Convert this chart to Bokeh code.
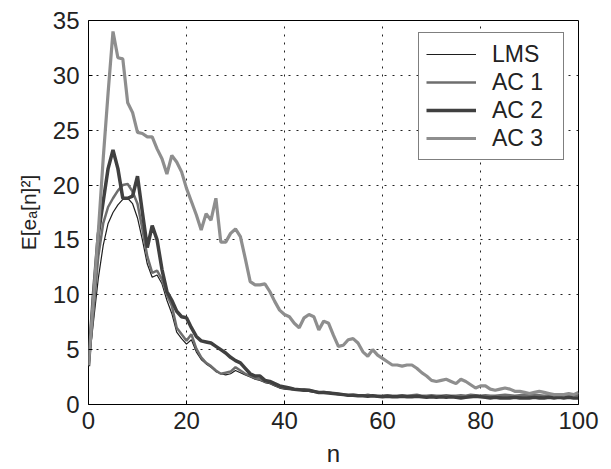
from bokeh.plotting import figure
from bokeh.models import Legend, LegendItem, FixedTicker, Range1d
from bokeh.embed import file_html
from bokeh.resources import INLINE

n = list(range(101))

lms = [3.5, 7.5, 11.5, 14.5, 16.5, 17.5, 18.2, 18.7, 18.8, 18.3,
       17.0, 15.0, 12.8, 11.6, 11.8, 11.0, 9.5, 8.3, 6.6, 6.0,
       5.5, 5.9, 4.8, 4.1, 3.7, 3.4, 3.0, 2.8, 2.7, 2.8,
       3.1, 2.9, 2.7, 2.5, 2.3, 2.2, 2.0, 1.9, 1.7, 1.5,
       1.4, 1.35, 1.3, 1.3, 1.25, 1.2, 1.1, 1.05, 1.1, 1.0,
       0.95, 0.9, 0.85, 0.8, 0.85, 0.8, 0.75, 0.8, 0.75, 0.7,
       0.75, 0.8, 0.75, 0.7, 0.75, 0.7, 0.75, 0.8, 0.7, 0.7,
       0.75, 0.7, 0.7, 0.75, 0.7, 0.7, 0.75, 0.7, 0.8, 0.75,
       0.7, 0.75, 0.7, 0.7, 0.75, 0.8, 0.75, 0.7, 0.75, 0.8,
       0.75, 0.8, 0.75, 0.7, 0.75, 0.8, 0.75, 0.8, 0.75, 0.8,
       0.8]

ac1 = [3.5, 8.5, 13.5, 16.5, 18.0, 18.8, 19.5, 20.0, 20.1, 19.4,
       18.3, 16.0, 13.5, 12.0, 12.2, 11.4, 10.0, 9.0, 7.0, 6.4,
       5.8, 6.4, 5.1, 4.3, 3.8, 3.5, 3.1, 2.8, 2.9, 3.0,
       3.4, 3.1, 2.8, 2.6, 2.4, 2.3, 2.1, 2.0, 1.8, 1.6,
       1.5, 1.45, 1.4, 1.35, 1.4, 1.3, 1.2, 1.1, 1.15, 1.1,
       1.0, 0.95, 0.9, 0.85, 0.9, 0.85, 0.8, 0.9, 0.8, 0.75,
       0.8, 0.85, 0.8, 0.8, 0.85, 0.8, 0.85, 0.9, 0.8, 0.8,
       0.85, 0.8, 0.8, 0.85, 0.8, 0.8, 0.85, 0.8, 0.9, 0.85,
       0.8, 0.85, 0.8, 0.8, 0.85, 0.9, 0.85, 0.8, 0.85, 0.9,
       0.85, 0.9, 0.85, 0.8, 0.85, 0.9, 0.85, 0.9, 0.85, 0.9,
       0.9]

ac2 = [3.5, 10.0, 15.5, 18.5, 21.5, 23.2, 21.5, 18.8, 18.8, 19.0,
       20.8, 17.5, 14.3, 16.3, 15.0, 12.3, 10.3, 9.5, 8.5, 8.0,
       7.9, 7.0, 6.2, 5.8, 5.7, 5.6, 5.3, 5.0, 4.7, 4.3,
       4.0, 3.8, 3.3, 2.8, 2.6, 2.6, 2.2, 2.1, 1.9, 1.7,
       1.6, 1.5, 1.4, 1.35, 1.3, 1.3, 1.2, 1.1, 1.1, 1.05,
       1.0, 0.95, 0.9, 0.85, 0.85, 0.8, 0.8, 0.75, 0.8, 0.75,
       0.7, 0.75, 0.7, 0.7, 0.75, 0.7, 0.7, 0.75, 0.7, 0.65,
       0.7, 0.65, 0.7, 0.65, 0.7, 0.65, 0.6, 0.65, 0.7, 0.75,
       0.7, 0.65, 0.6, 0.65, 0.6, 0.6, 0.6, 0.65, 0.6, 0.6,
       0.6, 0.65, 0.6, 0.6, 0.65, 0.6, 0.65, 0.6, 0.65, 0.6,
       0.6]

ac3 = [3.6, 9.6, 15.7, 22.4, 28.4, 34.0, 31.6, 31.5, 27.5, 26.6,
       24.8, 24.7, 24.4, 24.4, 23.3, 22.4, 21.0, 22.7, 22.1, 21.2,
       19.7, 18.5, 17.3, 15.9, 17.4, 16.8, 18.8, 14.8, 14.8, 15.6,
       16.0, 15.3, 13.3, 11.2, 10.9, 10.9, 11.0, 10.3, 9.4, 8.6,
       8.2, 8.0, 7.4, 7.0, 7.9, 8.2, 8.0, 6.8, 7.6, 7.4,
       6.3, 5.3, 5.4, 5.9, 6.0, 5.6, 4.8, 4.4, 5.0, 4.5,
       4.2, 3.9, 3.6, 3.6, 3.5, 3.6, 3.6, 3.3, 2.9, 2.6,
       2.2, 2.1, 2.2, 2.3, 2.1, 1.9, 2.3, 2.1, 1.8, 1.5,
       1.7, 1.7, 1.4, 1.3, 1.4, 1.5, 1.4, 1.2, 1.2, 1.1,
       1.0, 1.1, 1.2, 1.1, 1.0, 0.9, 0.9, 0.9, 1.0, 0.9,
       1.1]

x_ticks = [0, 20, 40, 60, 80, 100]
y_ticks = [0, 5, 10, 15, 20, 25, 30, 35]
series_names = ["LMS", "AC 1", "AC 2", "AC 3"]

FONT = "Liberation Sans"

p = figure(width=603, height=469, output_backend="svg", toolbar_location=None,
           x_range=Range1d(0, 100), y_range=Range1d(0, 35),
           min_border_left=88, min_border_right=25, min_border_top=20,
           min_border_bottom=64)

p.background_fill_color = "white"
p.border_fill_color = "white"
p.outline_line_color = "black"
p.outline_line_width = 1

# lines
r_lms = p.line(n, lms, line_color="#1e1e1e", line_width=1.2)
r_ac1 = p.line(n, ac1, line_color="#6e6e6e", line_width=2.5)
r_ac2 = p.line(n, ac2, line_color="#404040", line_width=3.5)
r_ac3 = p.line(n, ac3, line_color="#8e8e8e", line_width=3.2)

# axes
for ax, ticks in ((p.xaxis[0], x_ticks), (p.yaxis[0], y_ticks)):
    ax.ticker = FixedTicker(ticks=ticks)
    ax.major_label_text_font = FONT
    ax.major_label_text_font_size = "24px"
    ax.major_label_text_color = "#222222"
    ax.axis_line_color = None
    ax.major_tick_in = 4
    ax.major_tick_out = 0
    ax.major_tick_line_color = "black"
    ax.minor_tick_line_color = None
    ax.axis_label_text_font = FONT
    ax.axis_label_text_font_style = "normal"
    ax.axis_label_text_color = "#222222"

p.xaxis[0].axis_label = "n"
p.xaxis[0].axis_label_text_font_size = "24px"
p.xaxis[0].major_label_standoff = 7
p.xaxis[0].axis_label_standoff = 8
p.yaxis[0].axis_label = "E[eₐ[n]²]"
p.yaxis[0].axis_label_text_font_size = "21px"
p.yaxis[0].major_label_standoff = 9
p.yaxis[0].axis_label_standoff = 10

# grid
for g in (p.xgrid[0], p.ygrid[0]):
    g.grid_line_color = "#222222"
    g.grid_line_dash = "2 6"
    g.grid_line_width = 1
p.xgrid[0].ticker = FixedTicker(ticks=x_ticks)
p.ygrid[0].ticker = FixedTicker(ticks=y_ticks)

legend = Legend(items=[LegendItem(label=series_names[0], renderers=[r_lms]),
                       LegendItem(label=series_names[1], renderers=[r_ac1]),
                       LegendItem(label=series_names[2], renderers=[r_ac2]),
                       LegendItem(label=series_names[3], renderers=[r_ac3])],
                location=(330, 244), padding=7, spacing=0, margin=0,
                glyph_width=50, glyph_height=28, label_height=28, label_width=64,
                label_standoff=16, label_text_font=FONT, label_text_font_size="23px",
                label_text_color="#222222", border_line_color="black",
                border_line_width=1, background_fill_color="white",
                background_fill_alpha=1.0)
p.add_layout(legend)

open("out.html", "w").write(file_html(p, INLINE))
